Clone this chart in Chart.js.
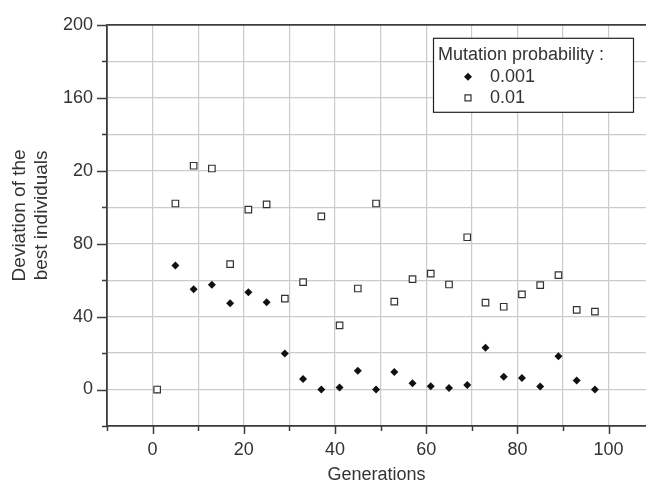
<!DOCTYPE html>
<html>
<head>
<meta charset="utf-8">
<script src="https://cdn.jsdelivr.net/npm/chart.js@4/dist/chart.umd.min.js"></script>
<style>
  html, body { margin: 0; padding: 0; background: #fff; overflow: hidden; }
  #wrap { width: 646px; height: 483px; }
</style>
</head>
<body>
<div id="wrap"><canvas id="chart"></canvas></div>
<script>
// values
const generations = [1, 5, 9, 13, 17, 21, 25, 29, 33, 37, 41, 45, 49, 53, 57, 61, 65, 69, 73, 77, 81, 85, 89, 93, 97];
const devLow = [0, 68, 55, 57.5, 47.3, 53.3, 47.9, 19.7, 5.8, 0, 1.1, 10.3, 0, 9.6, 3.4, 1.8, 0.9, 2.5, 22.9, 7, 6.3, 1.6, 18.3, 4.9, 0];
const devHigh = [0, 102, 122.7, 121.2, 68.8, 98.6, 101.5, 49.9, 58.9, 94.9, 35.2, 55.4, 102, 48.2, 60.5, 63.6, 57.6, 83.5, 47.7, 45.4, 52.2, 57.3, 62.7, 43.7, 42.7];
const seriesNames = ['0.001', '0.01'];
const legendTitle = 'Mutation probability :';
const yTitle = ['Deviation of the', 'best individuals'];

const xTickValues = [-10, 0, 10, 20, 30, 40, 50, 60, 70, 80, 90, 100];
const xTickLabels = ['', '0', '', '20', '', '40', '', '60', '', '80', '', '100'];
const yTickValues = [-20, 0, 20, 40, 60, 80, 100, 120, 140, 160, 180, 200];
const yTickLabels = ['', '0', '', '40', '', '80', '', '20', '', '160', '', '200'];

const font = { family: "'Liberation Sans', Arial, sans-serif", size: 18 };
const fontCss = font.size + 'px ' + font.family;
const textColor = '#333';
const axisColor = '#3c3c3c';

// outward tick marks, long where there is a label
const tickMarks = {
  id: 'tickMarks',
  afterDraw(chart) {
    const { ctx, chartArea } = chart;
    const xs = chart.scales.x, ys = chart.scales.y;
    ctx.save();
    ctx.strokeStyle = axisColor;
    ctx.lineWidth = 1.5;
    yTickValues.forEach((v, i) => {
      const py = Math.round(ys.getPixelForValue(v)) + 0.5;
      const len = yTickLabels[i] ? 10 : 5;
      ctx.beginPath();
      ctx.moveTo(chartArea.left - len, py);
      ctx.lineTo(chartArea.left, py);
      ctx.stroke();
    });
    xTickValues.forEach((v, i) => {
      const px = Math.round(xs.getPixelForValue(v)) + 0.5;
      const len = xTickLabels[i] ? 8 : 5;
      ctx.beginPath();
      ctx.moveTo(px, chartArea.bottom);
      ctx.lineTo(px, chartArea.bottom + len);
      ctx.stroke();
    });
    ctx.restore();
  }
};

// two-line rotated title of the y axis, sitting a little above the middle
const yAxisTitle = {
  id: 'yAxisTitle',
  afterDraw(chart) {
    const { ctx, chartArea } = chart;
    const cy = (chartArea.top + chartArea.bottom) / 2 - 10;
    ctx.save();
    ctx.font = '19px ' + font.family;
    ctx.fillStyle = textColor;
    ctx.textAlign = 'center';
    ctx.textBaseline = 'middle';
    yTitle.forEach((line, i) => {
      ctx.save();
      ctx.translate(20 + i * 22, cy);
      ctx.rotate(-Math.PI / 2);
      ctx.fillText(line, 0, 0);
      ctx.restore();
    });
    ctx.restore();
  }
};

// boxed legend in the top right corner of the plot
const boxLegend = {
  id: 'boxLegend',
  afterDatasetsDraw(chart) {
    const { ctx, chartArea } = chart;
    const w = 200, h = 74;
    const x0 = chartArea.right - 13 - w, y0 = chartArea.top + 13;
    ctx.save();
    ctx.fillStyle = '#fff';
    ctx.fillRect(x0, y0, w, h);
    ctx.strokeStyle = '#222';
    ctx.lineWidth = 1.2;
    ctx.strokeRect(x0 + 0.5, y0 + 0.5, w, h);
    ctx.font = fontCss;
    ctx.fillStyle = textColor;
    ctx.textBaseline = 'middle';
    ctx.fillText(legendTitle, x0 + 5, y0 + 17);
    chart.data.datasets.forEach((ds, i) => {
      const cy = y0 + 39 + i * 21;
      const cx = x0 + 35;
      ctx.beginPath();
      if (ds.pointStyle === 'rectRot') {
        ctx.moveTo(cx, cy - 4); ctx.lineTo(cx + 4, cy); ctx.lineTo(cx, cy + 4); ctx.lineTo(cx - 4, cy);
        ctx.closePath();
        ctx.fillStyle = ds.pointBackgroundColor;
        ctx.fill();
      } else {
        ctx.rect(cx - 3, cy - 3, 6, 6);
        ctx.fillStyle = '#fff';
        ctx.fill();
        ctx.strokeStyle = ds.pointBorderColor;
        ctx.lineWidth = 1.2;
        ctx.stroke();
      }
      ctx.fillStyle = textColor;
      ctx.fillText(ds.label, x0 + 57, cy);
    });
    ctx.restore();
  }
};

new Chart(document.getElementById('chart'), {
  type: 'scatter',
  data: {
    datasets: [
      {
        label: seriesNames[0],
        data: generations.map((g, i) => ({ x: g, y: devLow[i] })),
        pointStyle: 'rectRot',
        pointRadius: 4,
        pointBackgroundColor: '#111',
        pointBorderColor: '#111',
        pointBorderWidth: 0,
        order: 1
      },
      {
        label: seriesNames[1],
        data: generations.map((g, i) => ({ x: g, y: devHigh[i] })),
        pointStyle: 'rect',
        pointRadius: 4.6,
        pointBackgroundColor: '#fff',
        pointBorderColor: '#333',
        pointBorderWidth: 1.2,
        order: 0
      }
    ]
  },
  options: {
    responsive: true,
    maintainAspectRatio: false,
    animation: false,
    layout: { autoPadding: false, padding: { top: 21, right: 0, bottom: 0, left: 0 } },
    plugins: { legend: { display: false }, tooltip: { enabled: false } },
    scales: {
      x: {
        type: 'linear',
        min: -10,
        max: 108.2,
        afterBuildTicks: s => { s.ticks = xTickValues.map(v => ({ value: v })); },
        afterFit: s => { s.height = 57; },
        grid: { color: '#cbcbcb', lineWidth: 1.2, drawTicks: false },
        border: { color: axisColor, width: 1.8 },
        ticks: {
          autoSkip: false, maxRotation: 0, padding: 13, color: textColor, font,
          callback: (v, i) => xTickLabels[i]
        },
        title: { display: true, text: 'Generations', color: textColor, font, padding: { top: 0, bottom: -3 } }
      },
      y: {
        type: 'linear',
        min: -20,
        max: 200,
        afterBuildTicks: s => { s.ticks = yTickValues.map(v => ({ value: v })); },
        afterFit: s => { s.width = 107; },
        grid: {
          color: c => (c.tick && c.tick.value === 200) ? axisColor : '#cbcbcb',
          lineWidth: c => (c.tick && c.tick.value === 200) ? 1.8 : 1.2,
          drawTicks: false
        },
        border: { color: axisColor, width: 1.8 },
        ticks: {
          autoSkip: false, padding: 14, color: textColor, font,
          callback: (v, i) => yTickLabels[i]
        },
        title: { display: false }
      }
    }
  },
  plugins: [tickMarks, yAxisTitle, boxLegend]
});
</script>
</body>
</html>
